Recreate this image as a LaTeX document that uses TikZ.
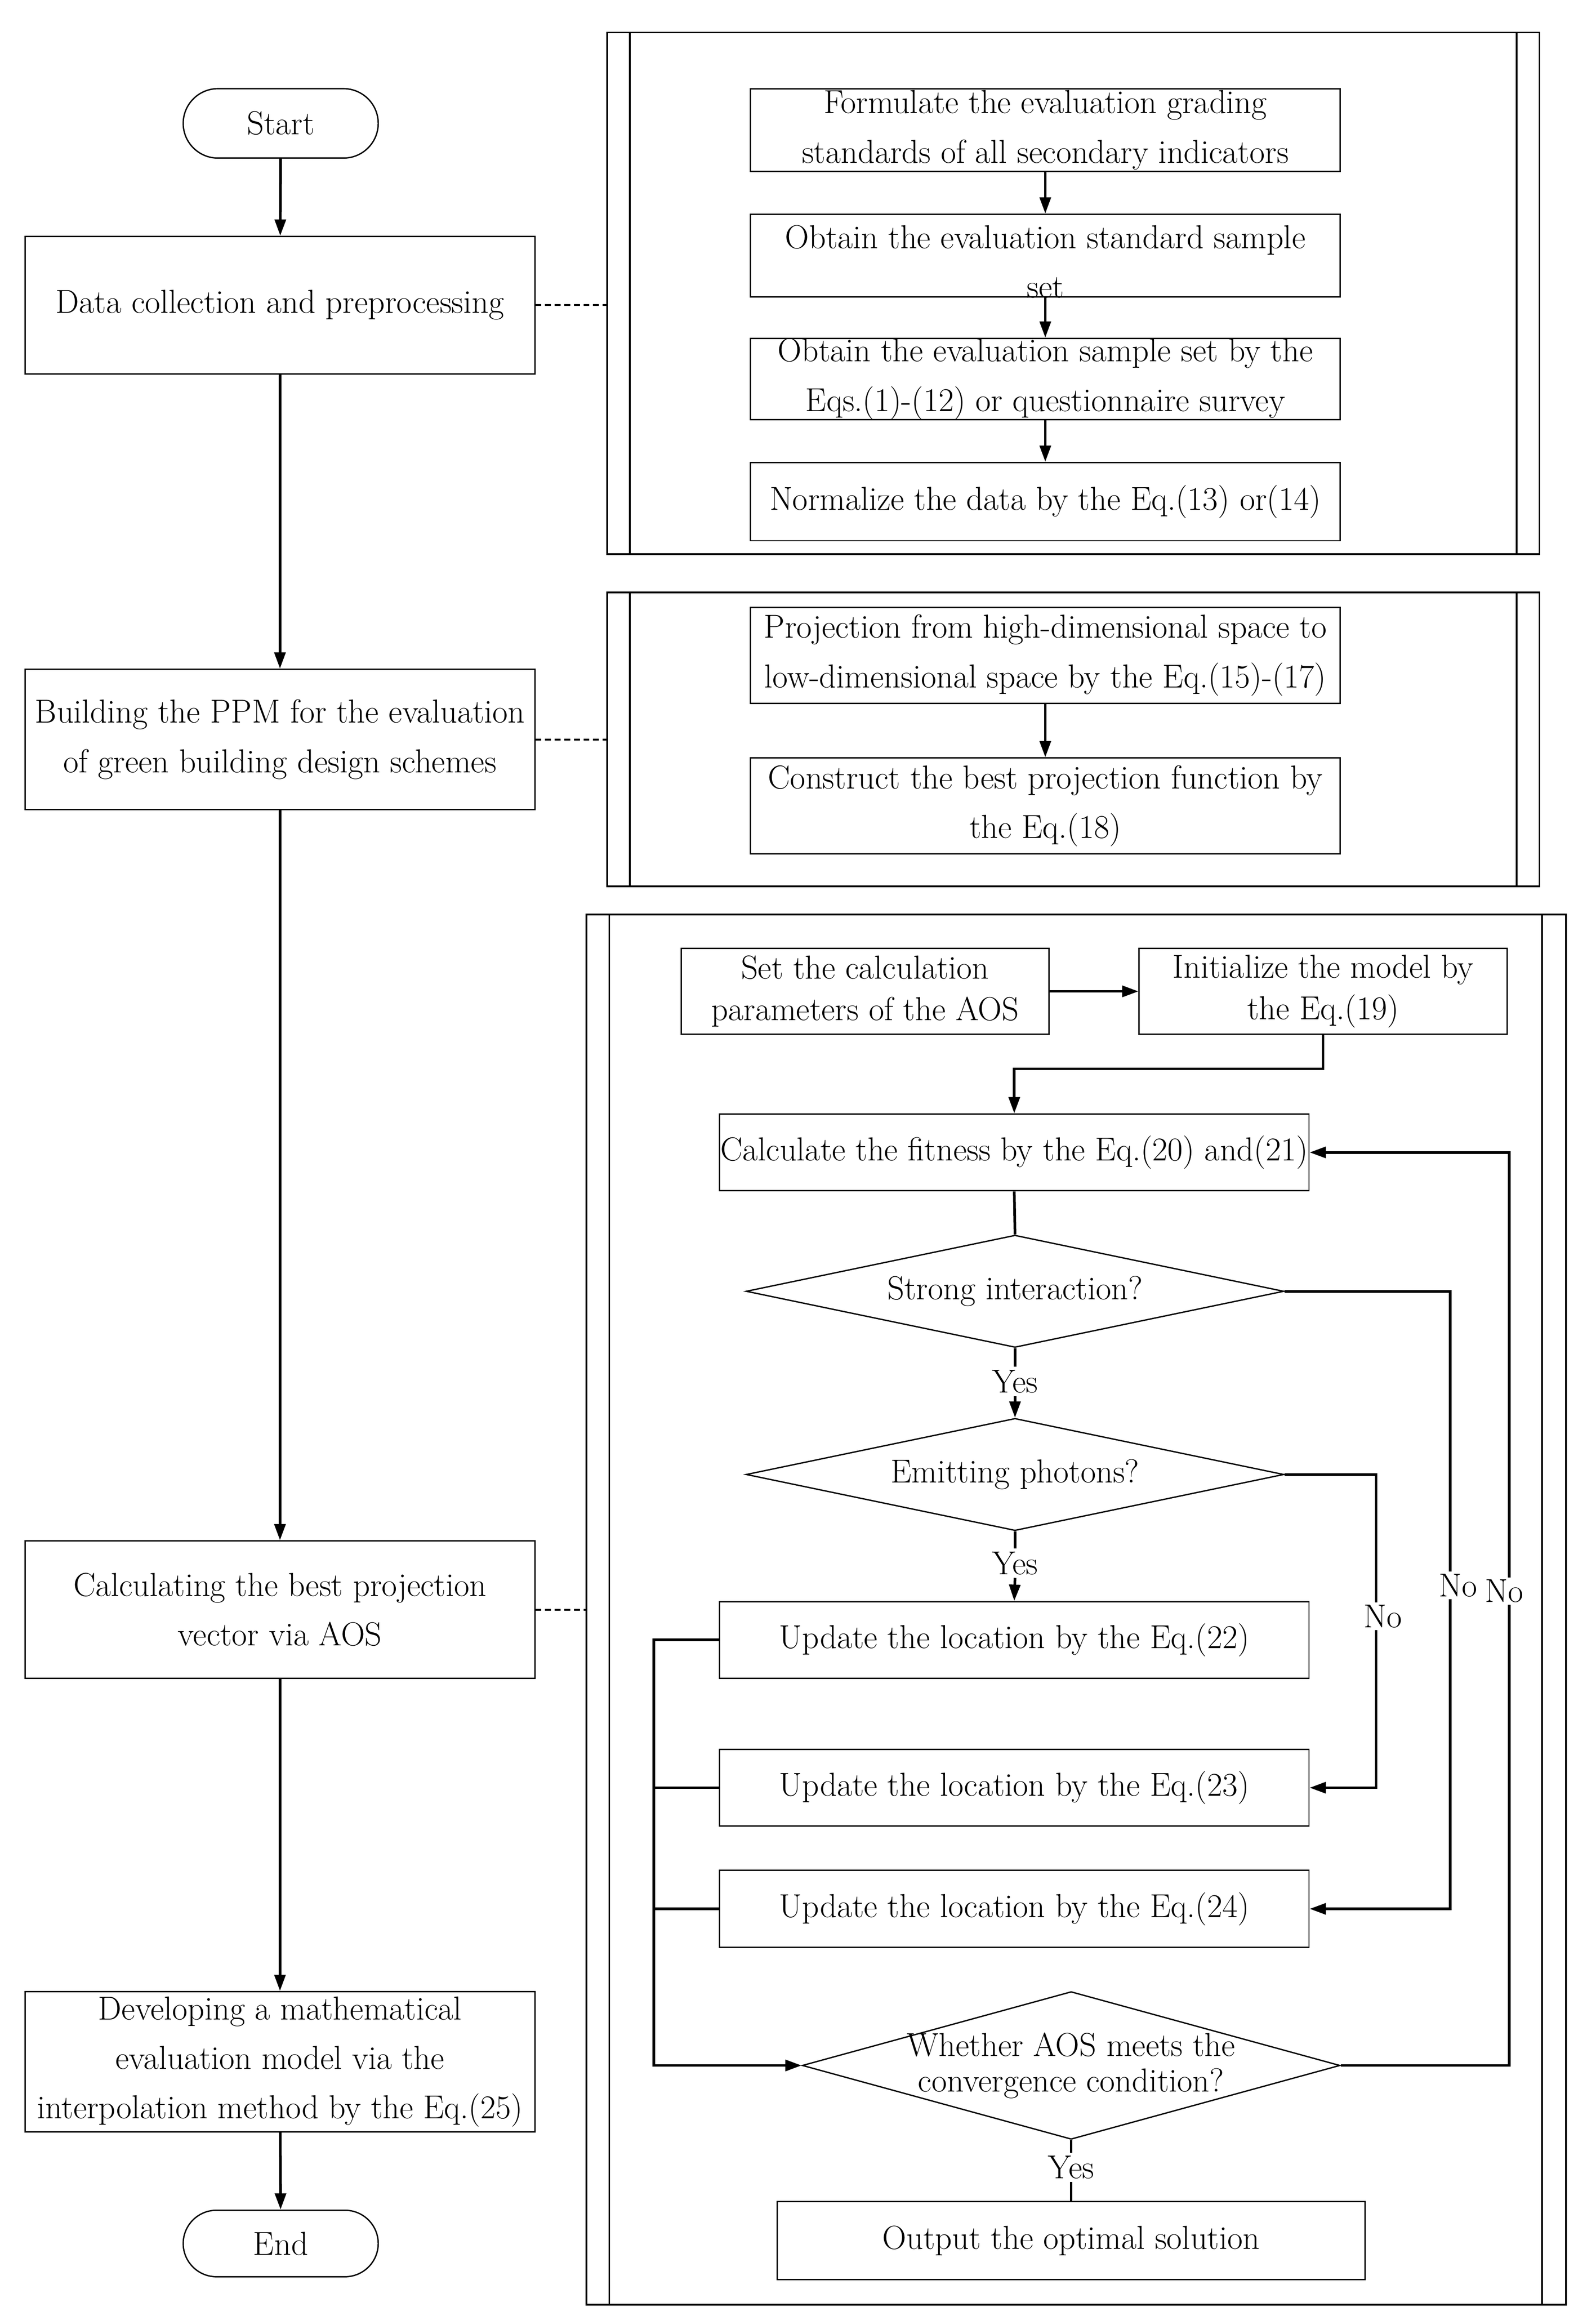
\documentclass[tikz,border=0pt]{standalone}
\usetikzlibrary{shapes.geometric,shapes.misc,arrows.meta,calc}
\begin{document}
\begin{tikzpicture}[x=1pt,y=-1pt,
  txt/.style={font=\fontsize{22.5}{33.5}\selectfont, align=center, inner sep=0pt},
  box/.style={txt, draw, line width=0.9pt, rectangle},
  term/.style={txt, draw, line width=0.9pt, rounded rectangle, minimum width=132pt},
  dia/.style={draw, line width=0.9pt, diamond, inner sep=0pt},
  panel/.style={draw, line width=1.2pt, rectangle, inner sep=0pt},
  arr/.style={line width=1.8pt, -{Triangle[length=11pt,width=7.5pt]}},
  ln/.style={line width=1.8pt},
  dsh/.style={line width=1.2pt, dash pattern=on 4pt off 2.5pt},
  lab/.style={font=\fontsize{22.5}{24}\selectfont, inner sep=1.5pt, fill=white}
]
\useasboundingbox (0,0) rectangle (1080,1561.5);

% ---------- left column ----------
\node[term, minimum height=47pt] (start) at (190,83.5) {Start};
\node[box, minimum width=345pt, minimum height=93pt] (data) at (189.5,206.5) {Data collection and preprocessing};
\node[box, minimum width=345pt, minimum height=95pt] (build) at (189.5,500.5) {Building the PPM for the evaluation\\of green building design schemes};
\node[box, minimum width=345pt, minimum height=93pt] (calc) at (189.5,1089.5) {Calculating the best projection\\vector via AOS};
\node[box, minimum width=345pt, minimum height=95pt] (dev) at (189.5,1395.5) {Developing a mathematical\\evaluation model via the\\interpolation method by the Eq.(25)};
\node[term, minimum height=45pt] (end) at (190,1518.5) {End};

\draw[arr] (start) -- (data);
\draw[arr] (data) -- (build);
\draw[arr] (build) -- (calc);
\draw[arr] (calc) -- (dev);
\draw[arr] (dev) -- (end);

% ---------- panel 1 ----------
\node[panel, minimum width=631pt, minimum height=353pt] (P1) at (726.5,198.5) {};
\draw[line width=1.2pt] ($(P1.north west)+(16,0)$) -- ($(P1.south west)+(16,0)$);
\draw[line width=1.2pt] ($(P1.north east)+(-16,0)$) -- ($(P1.south east)+(-16,0)$);
\node[box, minimum width=399pt, minimum height=56pt] (f1) at (707.5,88) {Formulate the evaluation grading\\standards of all secondary indicators};
\node[box, minimum width=399pt, minimum height=56pt] (f2) at (707.5,173) {};
\node[txt] (f2t) at (707.5,177) {Obtain the evaluation standard sample\\set};
\node[box, minimum width=399pt, minimum height=55pt] (f3) at (707.5,256.5) {Obtain the evaluation sample set by the\\Eqs.(1)-(12) or questionnaire survey};
\node[box, minimum width=399pt, minimum height=53pt] (f4) at (707.5,339.5) {Normalize the data by the Eq.(13) or(14)};
\draw[arr] (f1) -- (f2);
\draw[arr] (f2) -- (f3);
\draw[arr] (f3) -- (f4);
\draw[dsh] (data.east) -- (data.east -| P1.west);

% ---------- panel 2 ----------
\node[panel, minimum width=631pt, minimum height=199pt] (P2) at (726.5,500.5) {};
\draw[line width=1.2pt] ($(P2.north west)+(16,0)$) -- ($(P2.south west)+(16,0)$);
\draw[line width=1.2pt] ($(P2.north east)+(-16,0)$) -- ($(P2.south east)+(-16,0)$);
\node[box, minimum width=399pt, minimum height=65pt] (g1) at (707.5,443.5) {Projection from high-dimensional space to\\low-dimensional space by the Eq.(15)-(17)};
\node[box, minimum width=399pt, minimum height=65pt] (g2) at (707.5,545.5) {Construct the best projection function by\\the Eq.(18)};
\draw[arr] (g1) -- (g2);
\draw[dsh] (build.east) -- (build.east -| P2.west);

% ---------- panel 3 ----------
\node[panel, minimum width=663pt, minimum height=941pt] (P3) at (728.5,1089.5) {};
\draw[line width=1.2pt] ($(P3.north west)+(16,0)$) -- ($(P3.south west)+(16,0)$);
\draw[line width=1.2pt] ($(P3.north east)+(-17,0)$) -- ($(P3.south east)+(-17,0)$);
\draw[dsh] (calc.east) -- (calc.east -| P3.west);

\node[box, minimum width=249pt, minimum height=58pt, font=\fontsize{22.5}{28}\selectfont] (set) at (585.5,671) {Set the calculation\\parameters of the AOS};
\node[box, minimum width=249pt, minimum height=58pt, font=\fontsize{22.5}{28}\selectfont] (init) at (895.5,671) {Initialize the model by\\the Eq.(19)};
\node[box, minimum width=399pt, minimum height=52pt] (fit) at (686.5,780) {Calculate the fitness by the Eq.(20) and(21)};
\node[dia, minimum width=364pt, minimum height=76pt] (d1) at (687,874) {};
\node[txt] (d1t) at (687,874) {Strong interaction?};
\node[dia, minimum width=364pt, minimum height=76pt] (d2) at (687,998) {};
\node[txt] (d2t) at (687,998) {Emitting photons?};
\node[box, minimum width=399pt, minimum height=52pt] (u22) at (686.5,1110) {Update the location by the Eq.(22)};
\node[box, minimum width=399pt, minimum height=52pt] (u23) at (686.5,1210) {Update the location by the Eq.(23)};
\node[box, minimum width=399pt, minimum height=52pt] (u24) at (686.5,1292) {Update the location by the Eq.(24)};
\node[dia, minimum width=364pt, minimum height=100pt] (d3) at (725,1398) {};
\node[txt, font=\fontsize{22.5}{24}\selectfont] (d3t) at (725,1398) {Whether AOS meets the\\convergence condition?};
\node[box, minimum width=398pt, minimum height=53pt] (out) at (725,1516.5) {Output the optimal solution};

\node[txt, inner sep=2pt] (y1) at (687,935) {Yes};
\node[txt, inner sep=2pt] (y2) at (687,1058) {Yes};
\node[txt, inner sep=2pt] (y3) at (725,1467) {Yes};

\draw[arr] (set) -- (init);
\draw[arr] (init.south) -- ++(0,23) -| (fit.north);
\draw[ln] (fit.south) -- (d1.north);
\draw[ln] (d1.south) -- (y1.north);
\draw[arr] (y1.south) -- (d2.north);
\draw[ln] (d2.south) -- (y2.north);
\draw[arr] (y2.south) -- (u22.north);
\draw[ln] (d3.south) -- (y3.north);
\draw[ln] (y3.south) -- (out.north);

\draw[arr] (d1.east) -- ++(112,0) |- (u24.east);
\draw[arr] (d2.east) -- ++(62,0) |- (u23.east);
\draw[arr] (d3.east) -- ++(114,0) |- (fit.east);

\draw[arr] (u22.west) -- ++(-44,0) |- (d3.west);
\draw[ln] (u23.west) -- ++(-44,0);
\draw[ln] (u24.west) -- ++(-44,0);

\node[lab] (n1) at (987,1073) {No};
\node[lab] (n3) at (1018,1077) {No};
\node[lab] (n2) at (936,1094) {No};
\end{tikzpicture}
\end{document}
